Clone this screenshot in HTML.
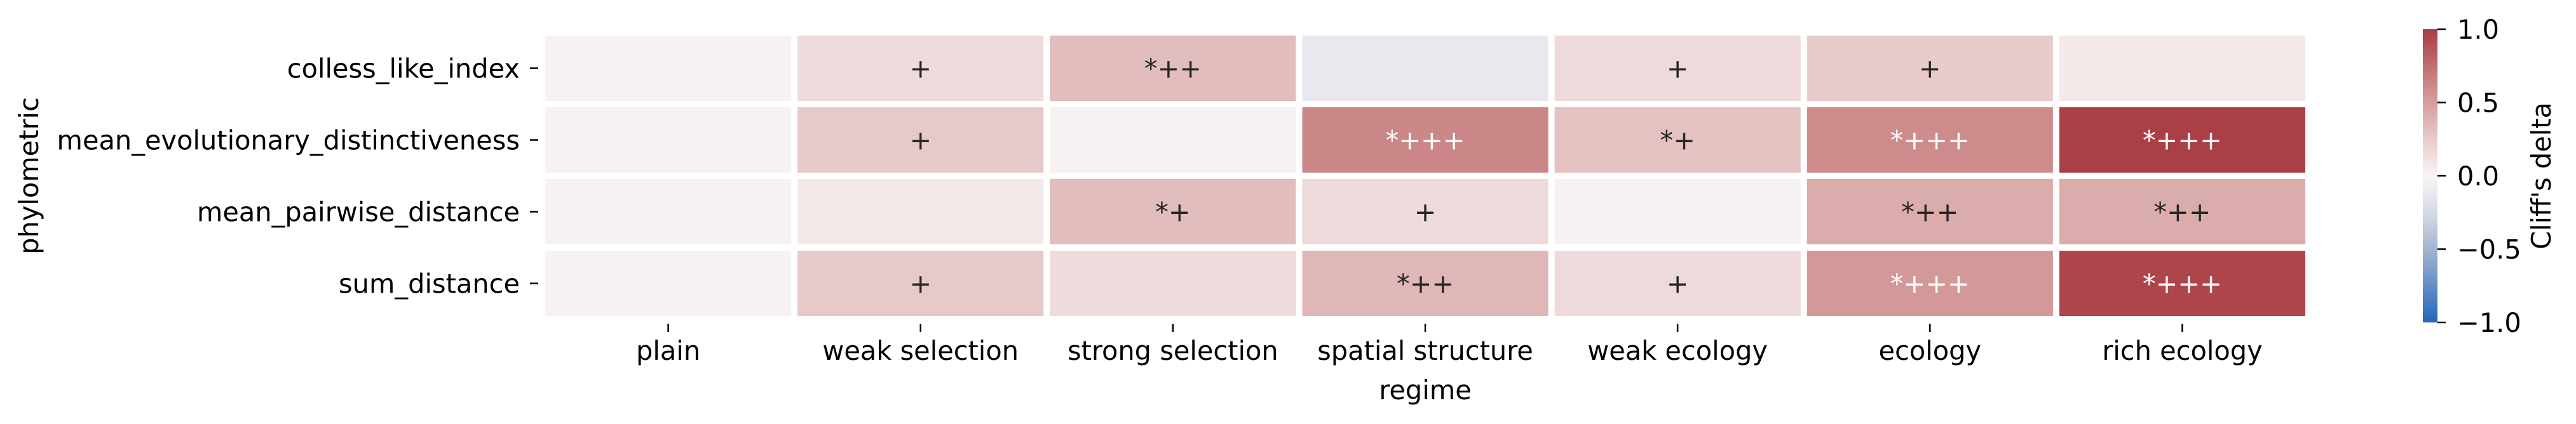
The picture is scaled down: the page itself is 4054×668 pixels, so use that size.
<!DOCTYPE html>
<html><head><meta charset="utf-8">
<style>
html,body{margin:0;padding:0;background:#fff;}
svg{display:block;font-family:"DejaVu Sans","Liberation Sans",sans-serif;}
</style></head>
<body>
<svg id="chart" width="4054" height="668" viewBox="0 0 4054 668" xmlns="http://www.w3.org/2000/svg">
<defs>
<linearGradient id="cbgrad" x1="0" y1="1" x2="0" y2="0">
<stop offset="0" stop-color="#2366bd"/>
<stop offset="0.25" stop-color="#a5b4d0"/>
<stop offset="0.375" stop-color="#d7dae6"/>
<stop offset="0.5" stop-color="#f8f5f5"/>
<stop offset="0.625" stop-color="#e8cbcb"/>
<stop offset="0.75" stop-color="#d59e9e"/>
<stop offset="0.875" stop-color="#c16e70"/>
<stop offset="1" stop-color="#a93b42"/>
</linearGradient>
</defs>
<g id="cells"></g>
<g id="axes"></g>
<g id="cbar"></g>
</svg>
<script>
const regimes = ["plain","weak selection","strong selection","spatial structure","weak ecology","ecology","rich ecology"];
const metrics = ["colless_like_index","mean_evolutionary_distinctiveness","mean_pairwise_distance","sum_distance"];
const rowColless = [0.02, 0.15, 0.33, -0.12, 0.16, 0.25, 0.07];
const rowMED = [0.02, 0.26, 0.02, 0.62, 0.30, 0.60, 0.98];
const rowMPD = [0.02, 0.07, 0.33, 0.16, 0.02, 0.42, 0.42];
const rowSum = [0.02, 0.26, 0.15, 0.36, 0.16, 0.53, 0.95];
const annColless = ["","+","*++","","+","+",""];
const annMED = ["","+","","*+++","*+","*+++","*+++"];
const annMPD = ["","","*+","+","","*++","*++"];
const annSum = ["","+","","*++","+","*+++","*+++"];
const cbTicks = [1.0, 0.5, 0.0, -0.5, -1.0];
const cbTickLabels = ["1.0","0.5","0.0","\u22120.5","\u22121.0"];

const values = [rowColless, rowMED, rowMPD, rowSum];
const annots = [annColless, annMED, annMPD, annSum];
const NS = "http://www.w3.org/2000/svg";
const FS = 41.5;
const X0 = 853, X1 = 3633, Y0 = 51, Y1 = 503, GAP = 10;
const cw = (X1 - X0) / regimes.length, ch = (Y1 - Y0) / metrics.length;
const xPos = i => X0 + i * cw;
const yPos = j => Y0 + j * ch;
const stops = [[-1,[35,102,189]],[-0.5,[165,180,208]],[-0.25,[215,218,230]],[0,[248,245,245]],[0.25,[232,203,203]],[0.5,[213,158,158]],[0.75,[193,110,112]],[1,[169,59,66]]];
function cmap(v){
  v = Math.max(-1, Math.min(1, v));
  for (let k = 0; k < stops.length - 1; k++) {
    const [a, ca] = stops[k], [b, cb] = stops[k+1];
    if (v <= b) { const t = (v - a) / (b - a); return "rgb(" + ca.map((c,i)=>Math.round(c + (cb[i]-c)*t)).join(",") + ")"; }
  }
  return "rgb(169,59,66)";
}
function mk(tag, attrs, parent){
  const e = document.createElementNS(NS, tag);
  for (const k in attrs) e.setAttribute(k, attrs[k]);
  parent.appendChild(e); return e;
}
const cells = document.getElementById("cells");
values.forEach((row, j) => row.forEach((v, i) => {
  const r = mk("rect", {x: xPos(i) + GAP/2, y: yPos(j) + GAP/2, width: cw - GAP, height: ch - GAP, fill: cmap(v)}, cells);
  
  
  const a = annots[j][i];
  if (a) {
    const t = mk("text", {x: xPos(i) + cw/2, y: yPos(j) + ch/2 + 15, "text-anchor": "middle", "font-size": FS, fill: v > 0.5 ? "#fff" : "#262626"}, cells);
    t.textContent = a;
    
    
  }
}));
const axes = document.getElementById("axes");
metrics.forEach((m, j) => {
  const cy = yPos(j) + ch/2;
  mk("line", {x1: 834, x2: 847, y1: cy, y2: cy, stroke: "#000", "stroke-width": 2.5}, axes);
  const t = mk("text", {x: 818, y: cy + 15, "text-anchor": "end", "font-size": FS, fill: "#000"}, axes);
  t.textContent = m;
  
  
});
regimes.forEach((r, i) => {
  const cx = xPos(i) + cw/2;
  mk("line", {x1: cx, x2: cx, y1: 510, y2: 523, stroke: "#000", "stroke-width": 2.5}, axes);
  const t = mk("text", {x: cx, y: 567, "text-anchor": "middle", "font-size": FS, fill: "#000"}, axes);
  t.textContent = r;
  
  
});
const xt = mk("text", {x: (X0+X1)/2, y: 629, "text-anchor": "middle", "font-size": FS, fill: "#000"}, axes);
xt.textContent = "regime";


const yt = mk("text", {x: 0, y: 0, transform: "translate(60,277) rotate(-90)", "text-anchor": "middle", "font-size": FS, fill: "#000"}, axes);
yt.textContent = "phylometric";



const cb = document.getElementById("cbar");
const CB0 = 46, CB1 = 508;
const cbY = v => CB0 + (1 - v) / 2 * (CB1 - CB0);
const bar = mk("rect", {x: 3813, y: CB0, width: 23, height: CB1 - CB0, fill: "url(#cbgrad)"}, cb);


cbTicks.forEach((v, k) => {
  const y = cbY(v);
  mk("line", {x1: 3836, x2: 3849, y1: y, y2: y, stroke: "#000", "stroke-width": 2.5}, cb);
  const t = mk("text", {x: 3867, y: y + 15, "font-size": FS, fill: "#000"}, cb);
  t.textContent = cbTickLabels[k];
  
  
});
const cbt = mk("text", {x: 0, y: 0, transform: "translate(4014,277) rotate(-90)", "text-anchor": "middle", "font-size": FS, fill: "#000"}, cb);
cbt.textContent = "Cliff's delta";


</script>
</body></html>
